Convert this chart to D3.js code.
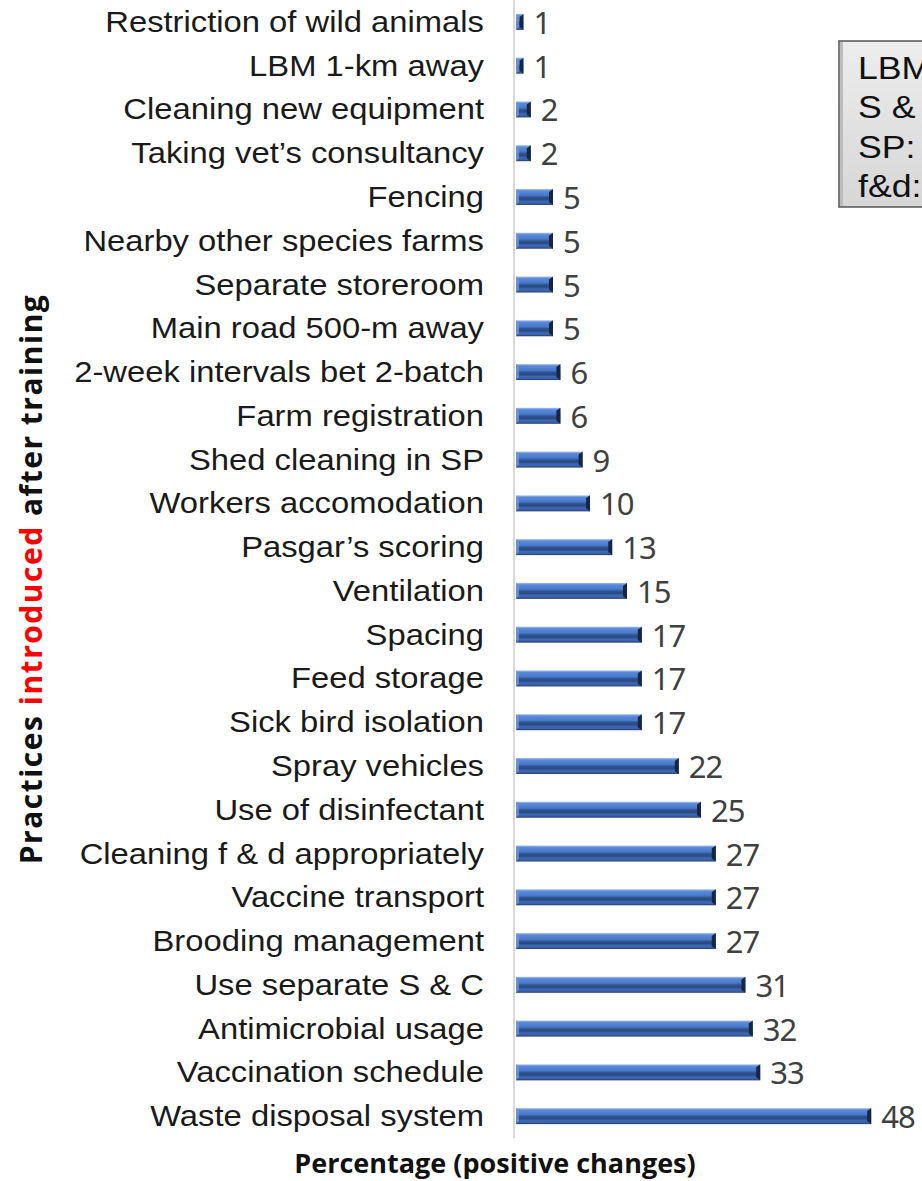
<!DOCTYPE html>
<html>
<head>
<meta charset="utf-8">
<script src="https://cdn.jsdelivr.net/npm/d3@7"></script>
<style>
  body { margin: 0; background: #fff; }
  svg { display: block; }
</style>
</head>
<body>
<div id="chart"></div>
<script>
// practices, top to bottom
var practices = [
  "Restriction of wild animals", "LBM 1-km away", "Cleaning new equipment",
  "Taking vet\u2019s consultancy", "Fencing", "Nearby other species farms",
  "Separate storeroom", "Main road 500-m away", "2-week intervals bet 2-batch",
  "Farm registration", "Shed cleaning in SP", "Workers accomodation",
  "Pasgar\u2019s scoring", "Ventilation", "Spacing", "Feed storage",
  "Sick bird isolation", "Spray vehicles", "Use of disinfectant",
  "Cleaning f & d appropriately", "Vaccine transport", "Brooding management",
  "Use separate S & C", "Antimicrobial usage", "Vaccination schedule",
  "Waste disposal system"
];
var percentChange = [1, 1, 2, 2, 5, 5, 5, 5, 6, 6, 9, 10, 13, 15, 17, 17, 17, 22, 25, 27, 27, 27, 31, 32, 33, 48];
var legendLines = ["LBM: Live bird market", "S & C: Shoes & clothes", "SP: Sanitary period", "f&d: Feeder & drinker"];

var data = practices.map(function(p, i) { return {name: p, value: percentChange[i]}; });

var width = 922, height = 1181;
var svg = d3.select("#chart").append("svg")
  .attr("width", width)
  .attr("height", height);

var defs = svg.append("defs");
var grad = defs.append("linearGradient")
  .attr("id", "barGrad")
  .attr("x1", 0).attr("y1", 0).attr("x2", 0).attr("y2", 1);
[[0, "#a9c2ee"], [0.12, "#5a8ad8"], [0.4, "#4878c8"], [0.52, "#30548f"],
 [0.66, "#2a4a82"], [0.78, "#3e68b4"], [0.9, "#3a60a8"], [1, "#22396a"]]
  .forEach(function(s) {
    grad.append("stop").attr("offset", s[0]).attr("stop-color", s[1]);
  });

var boxGrad = defs.append("linearGradient")
  .attr("id", "boxGrad")
  .attr("x1", 0).attr("y1", 0).attr("x2", 0).attr("y2", 1);
boxGrad.append("stop").attr("offset", 0).attr("stop-color", "#ededed");
boxGrad.append("stop").attr("offset", 1).attr("stop-color", "#d6d6d6");

var x = d3.scaleLinear()
  .domain([0, 50])
  .range([516, 886]);

var y = d3.scaleBand()
  .domain(practices)
  .range([0, 1138])
  .padding(0);

var barH = 16;

// vertical axis line
svg.append("line")
  .attr("x1", 514).attr("x2", 514)
  .attr("y1", 0).attr("y2", 1138)
  .attr("stroke", "#d9d9d9")
  .attr("stroke-width", 2);

// bars
var bars = svg.selectAll(".bar")
  .data(data)
  .enter()
  .append("g")
  .attr("class", "bar")
  .attr("transform", function(d) { return "translate(0," + (y(d.name) + y.bandwidth() / 2 - barH / 2) + ")"; });

bars.append("rect")
  .attr("x", x(0))
  .attr("y", 0)
  .attr("width", function(d) { return x(d.value) - x(0); })
  .attr("height", barH)
  .attr("fill", "url(#barGrad)");

// dark bevelled end cap
bars.append("path")
  .attr("d", function(d) {
    var e = x(d.value), w = Math.min(4, (x(d.value) - x(0)) / 2);
    return "M" + (e - w) + ",3 L" + e + ",0 L" + e + "," + barH + " L" + (e - w) + "," + (barH - 3) + " Z";
  })
  .attr("fill", "#15264a");

// lighter left bevel
bars.append("path")
  .attr("d", function(d) {
    var s = x(0), w = Math.min(3, (x(d.value) - x(0)) / 2);
    return "M" + s + ",0 L" + (s + w) + ",3 L" + (s + w) + "," + (barH - 3) + " L" + s + "," + barH + " Z";
  })
  .attr("fill", "#6f96d8")
  .attr("opacity", 0.8);

// value labels
svg.selectAll(".val")
  .data(data)
  .enter()
  .append("text")
  .attr("class", "val")
  .attr("x", function(d) { return x(d.value) + 10; })
  .attr("y", function(d) { return y(d.name) + y.bandwidth() / 2 + 12; })
  .attr("font-family", "'Noto Sans', sans-serif")
  .attr("font-size", 31)
  .attr("fill", "#404040")
  .style("letter-spacing", "-1px")
  .text(function(d) { return d.value; });

// category labels (source font is slightly stretched horizontally)
svg.selectAll(".cat")
  .data(data)
  .enter()
  .append("text")
  .attr("class", "cat")
  .attr("transform", function(d) { return "translate(484," + (y(d.name) + y.bandwidth() / 2 + 10) + ") scale(1.13,1)"; })
  .attr("text-anchor", "end")
  .attr("font-family", "'Liberation Sans', Arial, sans-serif")
  .attr("font-size", 29)
  .attr("fill", "#1a1a1a")
  .text(function(d) { return d.name; });

// x axis title
svg.append("text")
  .attr("x", 495)
  .attr("y", 1173)
  .attr("text-anchor", "middle")
  .attr("font-family", "'Open Sans', sans-serif")
  .attr("font-weight", "bold")
  .attr("font-size", 27)
  .attr("fill", "#111")
  .text("Percentage (positive changes)");

// y axis title
var yTitle = svg.append("text")
  .attr("transform", "translate(42,579) rotate(-90)")
  .attr("text-anchor", "middle")
  .attr("font-family", "'Open Sans', sans-serif")
  .attr("font-weight", "bold")
  .attr("font-size", 30)
  .attr("fill", "#111")
  .style("letter-spacing", "1.5px");
yTitle.append("tspan").text("Practices ");
yTitle.append("tspan").attr("fill", "#ff0000").text("introduced");
yTitle.append("tspan").text(" after training");

// abbreviation box (runs off the right edge, as in the source)
var box = svg.append("g").attr("transform", "translate(839,41)");
box.append("rect")
  .attr("x", 0).attr("y", 0)
  .attr("width", 400).attr("height", 166)
  .attr("fill", "url(#boxGrad)")
  .attr("stroke", "#555")
  .attr("stroke-width", 1.5);
box.append("rect")
  .attr("x", 1).attr("y", 1)
  .attr("width", 3).attr("height", 164)
  .attr("fill", "#bdbdbd");
box.selectAll("text")
  .data(legendLines)
  .enter()
  .append("text")
  .attr("transform", function(d, i) { return "translate(19," + (38 + i * 39.3) + ") scale(1.15,1)"; })
  .attr("font-family", "'Liberation Sans', Arial, sans-serif")
  .attr("font-size", 31)
  .attr("fill", "#111")
  .text(function(d) { return d; });
</script>
</body>
</html>
